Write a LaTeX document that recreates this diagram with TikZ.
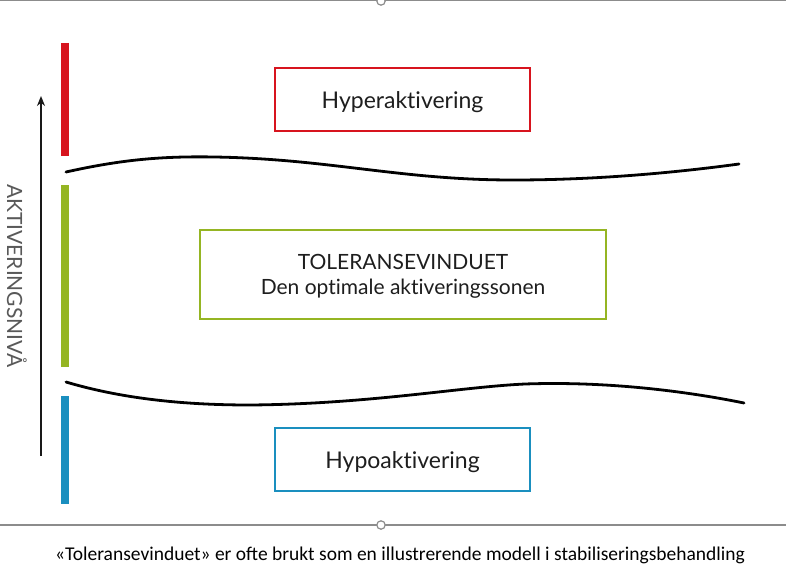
\documentclass[tikz,border=0pt]{standalone}
\usepackage{fontspec}
\setmainfont{Lato}[Ligatures={NoCommon}]
\newfontfamily\capfont{Carlito}
\usetikzlibrary{arrows.meta}
\definecolor{hyred}{HTML}{D7141E}
\definecolor{tolgreen}{HTML}{95B523}
\definecolor{hypoblue}{HTML}{1A8FBF}
\definecolor{framegray}{HTML}{8C8C8C}
\definecolor{txt}{HTML}{1E1E1E}
\tikzset{
  zonebox/.style={draw, line width=2.2pt, minimum width=#1, inner sep=0pt, text=txt, align=center, font=\fontsize{23}{26}\selectfont},
  zonebar/.style={line width=8pt},
  wave/.style={line width=2.8pt, line cap=round},
  frameline/.style={draw=framegray, line width=1.2pt},
}
\begin{document}
\begin{tikzpicture}[x=1pt,y=-1pt]
\useasboundingbox (0,0) rectangle (786,578);
\fill[white] (0,0) rectangle (786,578);
% frame lines
\draw[frameline] (0,0.6) -- (786,0.6);
\draw[frameline, fill=white] (381,1) circle (4.2);
\draw[frameline] (0,525) -- (786,525);
\draw[frameline, fill=white] (381,525) circle (4.2);
% bars
\coordinate (rt) at (65,43); \coordinate (rb) at (65,156);
\coordinate (gt) at (65,185); \coordinate (gb) at (65,367);
\coordinate (bt) at (65,396); \coordinate (bb) at (65,504);
\draw[zonebar, hyred] (rt) -- (rb);
\draw[zonebar, tolgreen] (gt) -- (gb);
\draw[zonebar, hypoblue] (bt) -- (bb);
% axis arrow
\coordinate (a0) at (41,456); \coordinate (a1) at (41,96);
\draw[line width=2.2pt, black!90, -{Stealth[length=10pt,width=8pt]}] (a0) -- (a1);
\node[rotate=-90, text=black!65, font=\fontsize{21}{24}\selectfont] (axl) at (17,276) {AKTIVERINGSNIVÅ};
% waves
\draw[wave] (66,172) .. controls (120,160) and (160,156) .. (215,157)
  .. controls (330,159) and (400,180) .. (513,180)
  .. controls (600,180) and (680,172) .. (739,164);
\draw[wave] (66,382) .. controls (120,398) and (180,405) .. (250,405)
  .. controls (370,404) and (460,387) .. (525,384)
  .. controls (610,381) and (690,392) .. (744,403);
% boxes
\node[zonebox=255pt, draw=hyred, minimum height=63pt] (hyper) at (402.5,99.5) {};
\node[text=txt, font=\fontsize{23}{26}\selectfont] (hyt) at (402.5,102) {Hyperaktivering};
\node[zonebox=406pt, draw=tolgreen, minimum height=89pt] (tol) at (403,274.5) {};
\node[text=txt, align=center, font=\fontsize{21}{25}\selectfont] (tolt) at (403,276.5) {TOLERANSEVINDUET\\Den optimale aktiveringssonen};
\node[zonebox=255pt, draw=hypoblue, minimum height=63pt] (hypo) at (402.5,459.5) {};
\node[text=txt, font=\fontsize{23}{26}\selectfont] (hypt) at (402.5,462) {Hypoaktivering};
% caption
\node[font=\capfont\fontsize{19.5}{22}\selectfont, text=black] (cap) at (400,555) {«Toleransevinduet» er ofte brukt som en illustrerende modell i stabiliseringsbehandling};
\end{tikzpicture}
\end{document}
